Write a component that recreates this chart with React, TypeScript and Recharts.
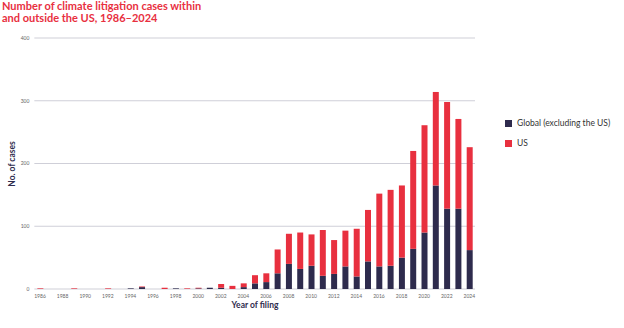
import React from 'react';
import { BarChart, Bar, XAxis, YAxis, CartesianGrid } from 'recharts';

const years: string[] = [
  '1986','1987','1988','1989','1990','1991','1992','1993','1994','1995',
  '1996','1997','1998','1999','2000','2001','2002','2003','2004','2005',
  '2006','2007','2008','2009','2010','2011','2012','2013','2014','2015',
  '2016','2017','2018','2019','2020','2021','2022','2023','2024',
];
const globalCases: number[] = [
  0,0,0,0,0,0,0,0,1,3,
  0,0,1,0,1,2,2,0,3,9,
  11,25,40,32,37,21,24,36,20,44,
  36,37,50,64,90,165,128,128,62,
];
const usCases: number[] = [
  1,0,0,1,0,0,1,0,0,1,
  0,2,0,1,1,0,6,5,6,13,
  14,38,48,58,50,73,54,57,76,82,
  116,121,115,156,171,149,170,143,164,
];
const yTicks: number[] = [0, 100, 200, 300, 400];
const seriesNames: string[] = ['Global (excluding the US)', 'US'];

const NAVY = '#2e2b4d';
const RED = '#e8303f';
const seriesColors = [NAVY, RED];

const data = years.map((y, i) => ({ year: y, global: globalCases[i], us: usCases[i] }));

const font = 'Lato, "Open Sans", sans-serif';

export default function App() {
  return (
    <div style={{ position: 'absolute', left: 0, top: 0, width: 624, height: 328, background: '#fff', fontFamily: font }}>
      <div style={{ position: 'absolute', left: 2, top: 0, color: RED, fontWeight: 700, fontSize: 11, lineHeight: '12px' }}>
        <div>Number of climate litigation cases within</div>
        <div>and outside the US, 1986–2024</div>
      </div>
      <BarChart width={624} height={328} data={data} margin={{ top: 38, right: 149, left: 0, bottom: 0 }} barCategoryGap={0}>
        <CartesianGrid vertical={false} stroke="#cfcfd8" strokeWidth={1.2} />
        <XAxis
          dataKey="year"
          height={39}
          interval={1}
          tickLine={false}
          axisLine={false}
          tickSize={0}
          tickMargin={5}
          tick={{ fontSize: 5, fill: '#666', fontFamily: font }}
        />
        <YAxis
          width={34.35}
          domain={[0, 400]}
          ticks={yTicks}
          tickLine={false}
          axisLine={false}
          tickSize={0}
          tickMargin={5}
          tick={{ fontSize: 5, fill: '#666', fontFamily: font }}
        />
        <Bar dataKey="global" name={seriesNames[0]} stackId="a" fill={NAVY} barSize={6} isAnimationActive={false} />
        <Bar dataKey="us" name={seriesNames[1]} stackId="a" fill={RED} barSize={6} isAnimationActive={false} />
      </BarChart>
      {seriesNames.map((n, i) => (
        <div key={n} style={{ position: 'absolute', left: 505, top: 118 + i * 20, display: 'flex', alignItems: 'center', whiteSpace: 'nowrap' }}>
          <span style={{ display: 'inline-block', width: 7, height: 7, background: seriesColors[i], marginRight: 5 }} />
          <span style={{ fontSize: 8.5, color: '#333', lineHeight: '10px' }}>{n}</span>
        </div>
      ))}
      <div style={{ position: 'absolute', left: 12, top: 164, transform: 'translate(-50%, -50%) rotate(-90deg)', whiteSpace: 'nowrap', fontWeight: 700, fontSize: 8.5, color: NAVY }}>
        No. of cases
      </div>
      <div style={{ position: 'absolute', left: 255, top: 305, transform: 'translate(-50%, -50%)', whiteSpace: 'nowrap', fontWeight: 700, fontSize: 8.5, color: NAVY }}>
        Year of filing
      </div>
    </div>
  );
}
